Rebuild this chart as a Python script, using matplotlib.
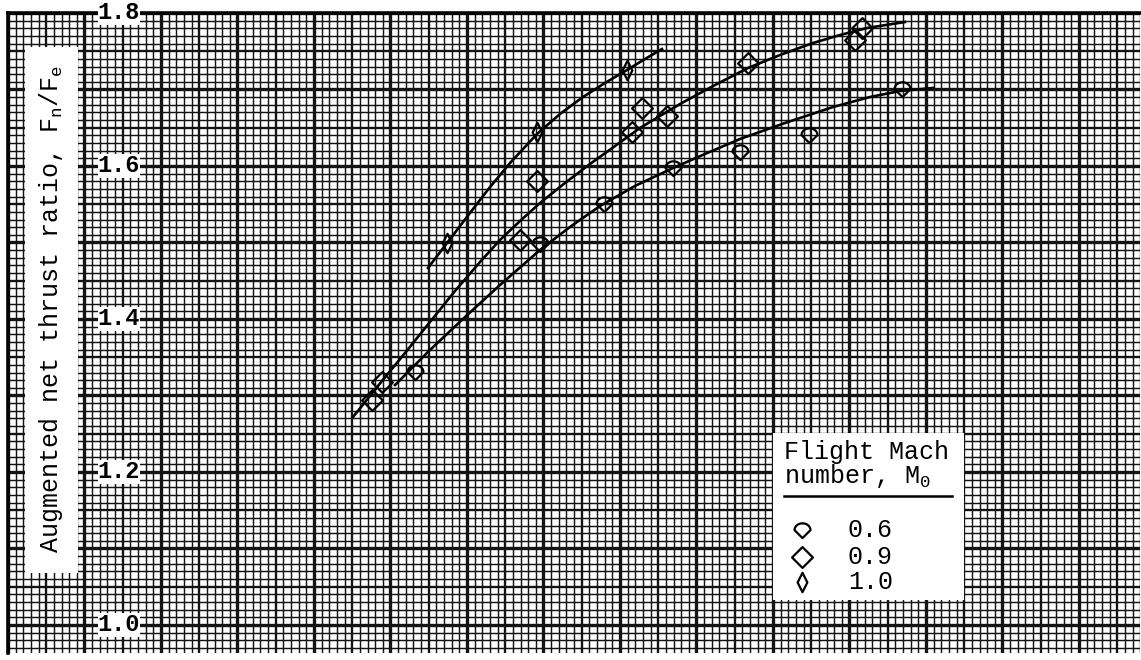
import matplotlib
matplotlib.use("Agg")
import matplotlib.pyplot as plt
import numpy as np
from matplotlib.patches import Rectangle
from matplotlib.path import Path

plt.rcParams["font.family"] = ["Liberation Mono", "DejaVu Sans Mono"]
plt.rcParams["mathtext.fontset"] = "custom"
plt.rcParams["mathtext.rm"] = "Liberation Mono"
plt.rcParams["mathtext.it"] = "Liberation Mono"
plt.rcParams["mathtext.default"] = "rm"

# x is in major grid divisions of the chart paper (no scale printed)
mach_labels = ["0.6", "0.9", "1.0"]

# test points, flight Mach 0.6
m06_x = [5.32, 6.95, 7.79, 8.69, 9.57, 10.47, 11.69]
m06_y = [1.331, 1.498, 1.550, 1.597, 1.618, 1.641, 1.701]
# test points, flight Mach 0.9
m09_x = [4.76, 4.89, 6.69, 6.92, 8.16, 8.29, 8.61, 9.67, 11.07, 11.16]
m09_y = [1.294, 1.318, 1.503, 1.580, 1.644, 1.676, 1.665, 1.735, 1.765, 1.780]
# test points, flight Mach 1.0
m10_x = [5.74, 6.92, 8.09]
m10_y = [1.499, 1.644, 1.726]

# faired curves
c06_x = [5.059, 5.516, 5.974, 6.431, 6.954, 7.346, 7.739, 8.196, 8.693, 9.111,
         9.569, 10.157, 10.784, 11.268, 11.660, 12.092]
c06_y = [1.3137, 1.3595, 1.4026, 1.4444, 1.4902, 1.5203, 1.5477, 1.5739, 1.5974,
         1.6157, 1.6353, 1.6562, 1.6771, 1.6902, 1.6980, 1.7020]
c09_x = [4.510, 4.889, 5.190, 5.516, 5.843, 6.170, 6.431, 6.693, 6.954, 7.281,
         7.608, 7.935, 8.261, 8.784, 9.242, 9.673, 10.092, 10.523, 10.876,
         11.229, 11.725]
c09_y = [1.2719, 1.3190, 1.3556, 1.3961, 1.4366, 1.4745, 1.5033, 1.5281, 1.5516,
         1.5778, 1.6026, 1.6261, 1.6497, 1.6810, 1.7059, 1.7281, 1.7451, 1.7608,
         1.7712, 1.7804, 1.7882]
c10_x = [5.490, 5.739, 6.039, 6.301, 6.562, 6.915, 7.216, 7.516, 7.804, 8.092,
         8.327, 8.549]
c10_y = [1.4667, 1.4993, 1.5386, 1.5725, 1.6039, 1.6418, 1.6680, 1.6902, 1.7085,
         1.7255, 1.7399, 1.7529]

y_tick_values = [1.0, 1.2, 1.4, 1.6, 1.8]

X_MAX = 14.8
Y_MIN, Y_MAX = 0.963, 1.8


def arch_marker():
    """Diamond with a rounded top, as drawn for M0 = 0.6."""
    t = np.linspace(np.pi, 0.0, 15)
    top = np.column_stack([np.cos(t), 0.05 + 0.85 * np.sin(t)])
    verts = np.vstack([[0.0, -0.95], [-1.0, 0.05], top, [1.0, 0.05], [0.0, -0.95]])
    return Path(verts, closed=True)


square_diamond = Path([(0, 1), (1, 0), (0, -1), (-1, 0), (0, 1)], closed=True)
thin_diamond = Path([(0, 1), (0.5, 0), (0, -1), (-0.5, 0), (0, 1)], closed=True)

series = [
    (m06_x, m06_y, c06_x, c06_y, arch_marker(), 11.5),
    (m09_x, m09_y, c09_x, c09_y, square_diamond, 15),
    (m10_x, m10_y, c10_x, c10_y, thin_diamond, 14),
]

fig = plt.figure(figsize=(11.41, 6.60), dpi=100)
ax = fig.add_axes([8 / 1141, 6.7 / 660, X_MAX * 76.5 / 1141, (Y_MAX - Y_MIN) * 765 / 660])
ax.set_xlim(0, X_MAX)
ax.set_ylim(Y_MIN, Y_MAX)
ax.set_xticks([])
ax.set_yticks([])
for side in ("right", "bottom"):
    ax.spines[side].set_visible(False)
for side in ("left", "top"):
    ax.spines[side].set_linewidth(2.6)

# graph-paper ruling: fine every 0.1 div, heavier every 5, heaviest every 10
grid_color = "#141414"
for i in range(int(X_MAX * 10) + 1):
    lw = 2.4 if i % 10 == 0 else (1.7 if i % 5 == 0 else 1.05)
    ax.axvline(i / 10, color=grid_color, lw=lw, zorder=1)
for j in range(int(round((Y_MAX - Y_MIN) * 100)) + 1):
    lw = 2.4 if j % 10 == 0 else (1.7 if j % 5 == 0 else 1.05)
    ax.axhline(Y_MAX - j / 100, color=grid_color, lw=lw, zorder=1)

for mx, my, cx, cy, mk, ms in series:
    ax.plot(cx, cy, color="black", lw=1.9, zorder=3, solid_joinstyle="round")
    ax.plot(mx, my, linestyle="none", marker=mk, ms=ms, mfc="none",
            mec="black", mew=1.6, zorder=4)

# y-axis numbering written on the paper
for v in y_tick_values:
    ax.text(1.45, v, f"{v:.1f}", ha="center", va="center", fontsize=17,
            fontweight="bold", zorder=6, clip_on=False,
            bbox=dict(facecolor="white", edgecolor="none", pad=0.1))

# axis title on a white strip
ax.add_patch(Rectangle((0.22, 1.068), 0.70, 0.688, facecolor="white",
                       edgecolor="none", zorder=5))
ax.text(0.56, 1.413, "Augmented net thrust ratio, F$_n$/F$_e$", rotation=90,
        ha="center", va="center", fontsize=18, zorder=6)

# key
ax.add_patch(Rectangle((10.0, 1.033), 2.5, 0.218, facecolor="white",
                       edgecolor="none", zorder=5))
ax.text(10.15, 1.226, "Flight Mach", ha="left", va="center", fontsize=18, zorder=6)
ax.text(10.15, 1.195, "number, M$_0$", ha="left", va="center", fontsize=18, zorder=6)
ax.plot([10.15, 12.34], [1.168, 1.168], color="black", lw=1.8, zorder=6)
key_y = [1.124, 1.089, 1.056]
for (_, _, _, _, mk, ms), label, ky in zip(series, mach_labels, key_y):
    ax.plot([10.38], [ky], linestyle="none", marker=mk, ms=ms, mfc="none",
            mec="black", mew=1.6, zorder=6)
    ax.text(10.98, ky, label, ha="left", va="center", fontsize=18, zorder=6)

fig.savefig("out.png", dpi=100)
